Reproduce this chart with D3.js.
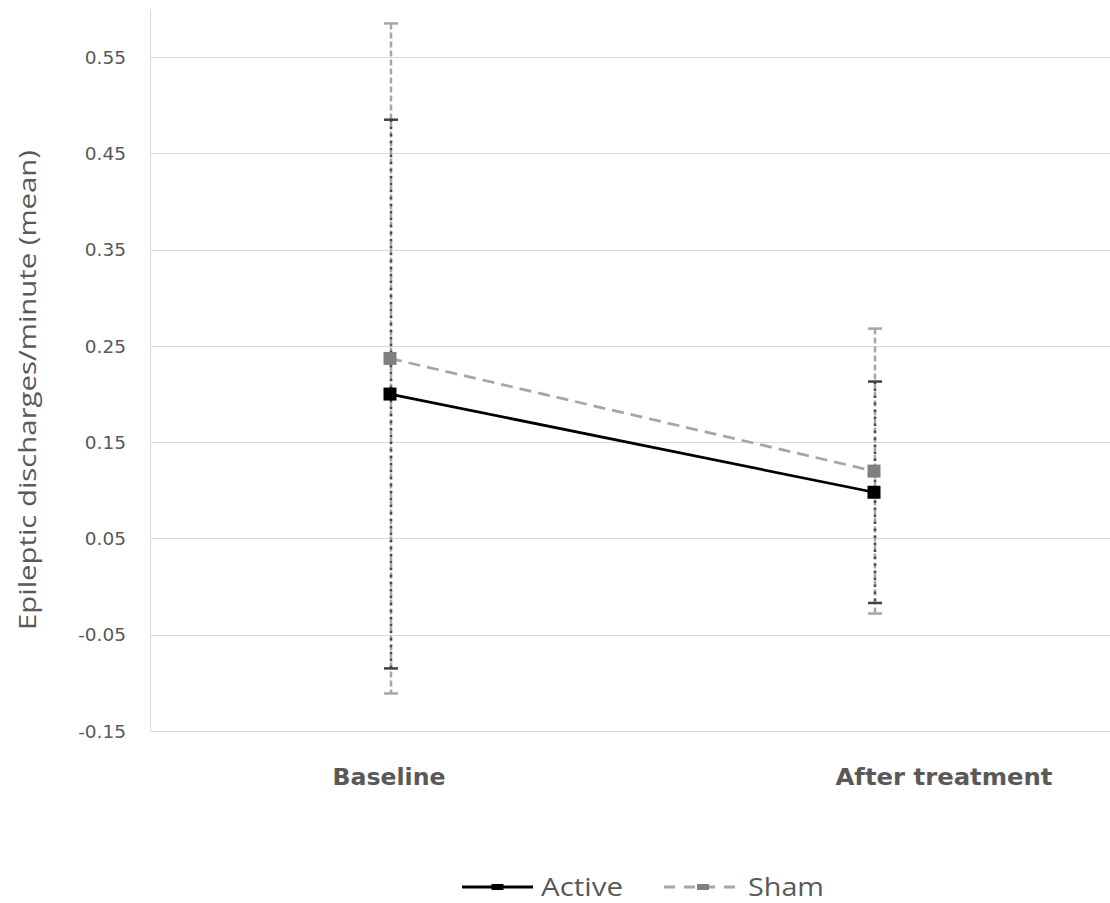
<!DOCTYPE html>
<html>
<head>
<meta charset="utf-8">
<script src="https://cdn.jsdelivr.net/npm/d3@7/dist/d3.min.js"></script>
<style>
  html, body { margin: 0; padding: 0; background: #fff; }
  svg { display: block; }
</style>
</head>
<body>
<svg id="chart" width="1110" height="903"></svg>
<script>
// ---- data ----
const categories = ["Baseline", "After treatment"];
const seriesNames = ["Active", "Sham"];
const activeMean = [0.200, 0.098];
const activeErr  = [0.285, 0.115];
const shamMean   = [0.237, 0.120];
const shamErr    = [0.348, 0.148];
const yTicks = [-0.15, -0.05, 0.05, 0.15, 0.25, 0.35, 0.45, 0.55];
const yTickLabels = ["-0.15", "-0.05", "0.05", "0.15", "0.25", "0.35", "0.45", "0.55"];
const yTitle = "Epileptic discharges/minute (mean)";

const svg = d3.select("#chart");
const plotLeft = 150, plotRight = 1110, plotTop = 9, plotBottom = 731;

const x = d3.scaleBand().domain(categories).range([148, 1116]).padding(0);
const cx = c => x(c) + x.bandwidth() / 2;
const y = d3.scaleLinear().domain([-0.15, 0.60]).range([plotBottom, plotTop]);

// gridlines
svg.append("g").selectAll("line").data(yTicks).join("line")
  .attr("x1", plotLeft).attr("x2", plotRight)
  .attr("y1", d => Math.round(y(d)) + 0.5).attr("y2", d => Math.round(y(d)) + 0.5)
  .attr("stroke", "#d9d9d9").attr("stroke-width", 1);

// y axis line
svg.append("line")
  .attr("x1", plotLeft + 0.5).attr("x2", plotLeft + 0.5)
  .attr("y1", plotTop).attr("y2", plotBottom)
  .attr("stroke", "#d9d9d9").attr("stroke-width", 1);

// y tick labels
svg.append("g").selectAll("text").data(yTicks).join("text")
  .attr("x", 126).attr("y", d => y(d))
  .attr("dy", "0.36em")
  .attr("text-anchor", "end")
  .attr("font-family", "DejaVu Sans, Verdana, sans-serif")
  .attr("font-size", 18.5)
  .attr("fill", "#595959")
  .text((d, i) => yTickLabels[i]);

// y title
svg.append("text")
  .attr("transform", `translate(36, ${390}) rotate(-90)`)
  .attr("text-anchor", "middle")
  .attr("font-family", "Open Sans, sans-serif")
  .attr("font-size", 24)
  .attr("fill", "#595959")
  .attr("textLength", 480)
  .attr("lengthAdjust", "spacingAndGlyphs")
  .text(yTitle);

// category labels
const catWidths = [113, 217];
const catCenters = [389, 944];
svg.append("g").selectAll("text").data(categories).join("text")
  .attr("x", (d, i) => catCenters[i]).attr("y", 785)
  .attr("text-anchor", "middle")
  .attr("font-family", "DejaVu Sans, Verdana, sans-serif")
  .attr("font-weight", "bold")
  .attr("font-size", 23)
  .attr("fill", "#595959")
  .attr("textLength", (d, i) => catWidths[i])
  .attr("lengthAdjust", "spacingAndGlyphs")
  .text(d => d);

const series = [
  { name: "Sham", mean: shamMean, err: shamErr, line: "#a6a6a6", marker: "#808080",
    errColor: "#a6a6a6", errDash: "6,3", capColor: "#a6a6a6", dash: "12,7" },
  { name: "Active", mean: activeMean, err: activeErr, line: "#000000", marker: "#000000",
    errColor: "#4a4a4a", errDash: "2.5,4.5", capColor: "#404040", dash: null }
];

// error bars (sham first, active on top)
series.forEach(s => {
  const g = svg.append("g");
  categories.forEach((c, i) => {
    const px = cx(c) + 1;
    const hi = y(s.mean[i] + s.err[i]), lo = y(s.mean[i] - s.err[i]);
    g.append("line").attr("x1", px).attr("x2", px).attr("y1", hi).attr("y2", lo)
      .attr("stroke", s.errColor).attr("stroke-width", 2.5)
      .attr("stroke-dasharray", s.errDash);
    [hi, lo].forEach(v => {
      g.append("line").attr("x1", px - 7).attr("x2", px + 7).attr("y1", v).attr("y2", v)
        .attr("stroke", s.capColor).attr("stroke-width", 2.5);
    });
  });
});

// lines
const lineGen = d3.line().x(d => d[0]).y(d => d[1]);
series.forEach(s => {
  const pts = categories.map((c, i) => [cx(c), y(s.mean[i])]);
  const p = svg.append("path").attr("d", lineGen(pts))
    .attr("fill", "none").attr("stroke", s.line).attr("stroke-width", 2.75);
  if (s.dash) p.attr("stroke-dasharray", s.dash);
});

// markers
series.forEach(s => {
  svg.append("g").selectAll("rect").data(categories).join("rect")
    .attr("x", c => cx(c) - 6.5)
    .attr("y", (c, i) => y(s.mean[i]) - 6.5)
    .attr("width", 13).attr("height", 13)
    .attr("fill", s.marker);
});

// legend
const legend = svg.append("g");
const legendItems = [
  { name: seriesNames[0], x0: 462, x1: 533, color: "#000000", marker: "#000000", dash: null, tx: 541, tw: 82 },
  { name: seriesNames[1], x0: 664, x1: 742, color: "#a6a6a6", marker: "#808080", dash: "11,9", tx: 748, tw: 76 }
];
const ly = 887;
legendItems.forEach(it => {
  const l = legend.append("line").attr("x1", it.x0).attr("x2", it.x1)
    .attr("y1", ly).attr("y2", ly)
    .attr("stroke", it.color).attr("stroke-width", 3);
  if (it.dash) l.attr("stroke-dasharray", it.dash);
  legend.append("rect").attr("x", (it.x0 + it.x1) / 2 - 6).attr("y", ly - 3)
    .attr("width", 12).attr("height", 6).attr("fill", it.marker);
  legend.append("text").attr("x", it.tx).attr("y", ly).attr("dy", "0.35em")
    .attr("font-family", "Open Sans, sans-serif").attr("font-size", 26)
    .attr("fill", "#595959")
    .attr("textLength", it.tw).attr("lengthAdjust", "spacingAndGlyphs")
    .text(it.name);
});
</script>
</body>
</html>
